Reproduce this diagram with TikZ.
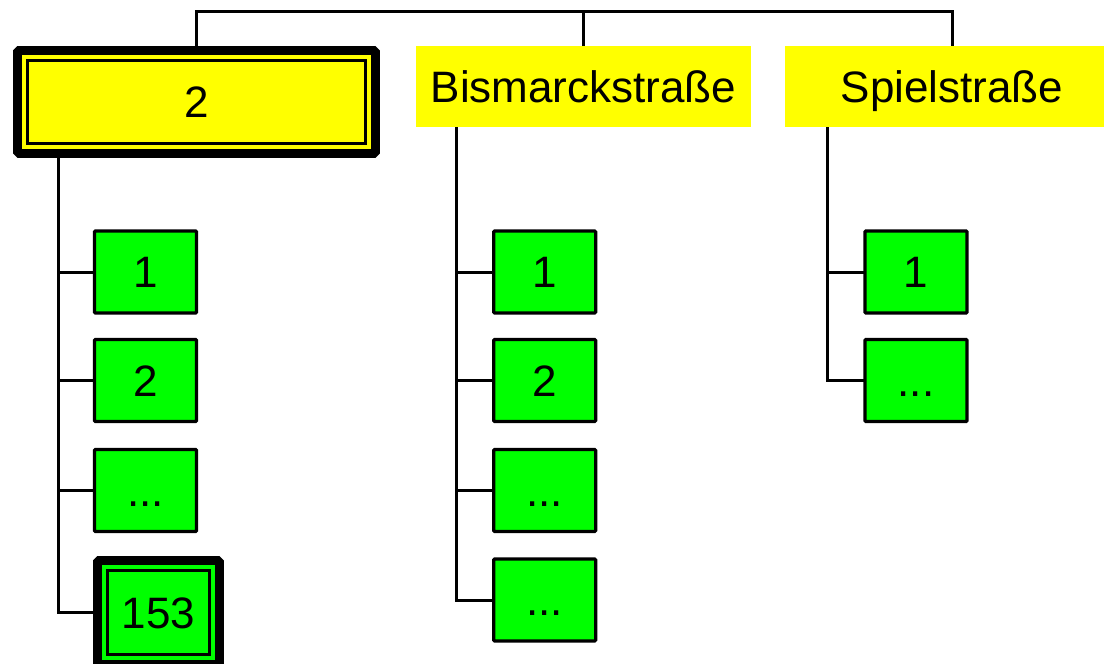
\documentclass[tikz,border=0pt]{standalone}
\usepackage{fontspec}
\setmainfont{Liberation Sans}
\usetikzlibrary{calc}
\definecolor{boxyellow}{RGB}{255,255,0}
\definecolor{boxgreen}{RGB}{0,255,0}
\begin{document}
\begin{tikzpicture}[x=1pt,y=-1pt,
  every node/.style={font=\fontsize{44}{53}\selectfont, text height=31.5pt, text depth=0pt, inner sep=0pt, outer sep=0pt},
  conn/.style={line width=3pt, draw=black},
  street/.style={rectangle, fill=boxyellow, minimum width=335pt, minimum height=81pt},
  house/.style={rectangle, draw=black, fill=boxgreen, line width=3.2pt, rounded corners=1pt, minimum width=102pt, minimum height=82pt},
  selstreet/.style={rectangle, draw=black, fill=boxyellow, line width=9pt, line join=bevel, minimum width=358pt, minimum height=103pt},
  selhouse/.style={rectangle, draw=black, fill=boxgreen, line width=9pt, line join=bevel, minimum width=122pt, minimum height=104pt},
  innerline/.style={line width=2.4pt, draw=black}
]
\useasboundingbox (0,0) rectangle (1104,664);

% street nodes
\node[selstreet] (s2) at (196.5,102) {2};
\node[street] (bis) at (583.5,86.5) {Bismarckstraße};
\node[street] (spiel) at (952,86.5) {Spielstraße};
\draw[innerline] ($(s2.north west)+(10,10)$) rectangle ($(s2.south east)+(-10,-10)$);

% houses, column A
\node[house] (a1) at (145.5,272) {1};
\node[house] (a2) at (145.5,380.5) {2};
\node[house] (a3) at (145.5,490.5) {...};
\node[selhouse] (a4) at (158.4,612.5) {153};
\draw[innerline] ($(a4.north west)+(10,10)$) rectangle ($(a4.south east)+(-10,-10)$);

% houses, column B
\node[house] (b1) at (544.7,272) {1};
\node[house] (b2) at (544.7,380.5) {2};
\node[house] (b3) at (544.7,490.5) {...};
\node[house] (b4) at (544.7,600) {...};

% houses, column C
\node[house] (c1) at (916,272) {1};
\node[house] (c2) at (916,380.5) {...};

% connectors
\coordinate (bus) at (0,11);
\coordinate (ca) at (58,0);
\coordinate (cb) at (456.7,0);
\coordinate (cc) at (827,0);

\draw[conn] (s2.north) -- (s2.north |- bus) -| (spiel.north);
\draw[conn] (bis.north) -- (bis.north |- bus);

\draw[conn] (s2.south -| ca) |- (a4.west);
\draw[conn] (a1.west -| ca) -- (a1.west);
\draw[conn] (a2.west -| ca) -- (a2.west);
\draw[conn] (a3.west -| ca) -- (a3.west);

\draw[conn] (bis.south -| cb) |- (b4.west);
\draw[conn] (b1.west -| cb) -- (b1.west);
\draw[conn] (b2.west -| cb) -- (b2.west);
\draw[conn] (b3.west -| cb) -- (b3.west);

\draw[conn] (spiel.south -| cc) |- (c2.west);
\draw[conn] (c1.west -| cc) -- (c1.west);
\end{tikzpicture}
\end{document}
